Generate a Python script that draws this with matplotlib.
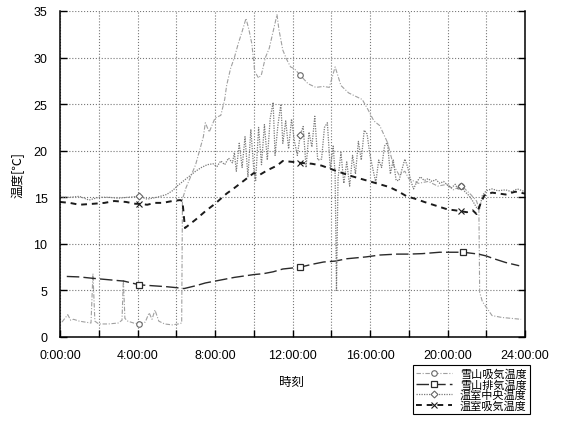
import matplotlib
matplotlib.use("Agg")
import matplotlib.pyplot as plt
import numpy as np
from matplotlib.ticker import FuncFormatter

# 雪山吸気温度
t_a = [0.1, 0.4, 0.55, 0.7, 1.0, 1.3, 1.6, 1.7, 1.8, 2.0, 2.5, 3.0, 3.2, 3.27, 3.35, 3.5, 3.8, 4.1,
       4.4, 4.6, 4.75, 4.9, 5.1, 5.4, 5.8, 6.1, 6.28, 6.32, 6.5, 6.8, 7.0, 7.2, 7.4, 7.5, 7.7, 8.0,
       8.3, 8.5, 8.6, 8.8, 9.0, 9.2, 9.4, 9.6, 9.75, 9.9, 10.05, 10.25, 10.4, 10.6, 10.8, 11.0,
       11.2, 11.3, 11.5, 11.7, 11.9, 12.1, 12.4, 12.8, 13.2, 13.6, 13.9, 14.2, 14.5, 14.9, 15.3,
       15.6, 15.9, 16.2, 16.5, 16.9, 17.2, 17.5, 17.8, 18.0, 18.5, 19.0, 19.5, 20.0, 20.3, 20.7,
       20.9, 21.2, 21.5, 21.62, 21.66, 21.8, 22.3, 22.8, 23.3, 23.8]
v_a = [1.6, 2.4, 1.8, 1.9, 1.7, 1.6, 1.5, 6.8, 1.7, 1.4, 1.4, 1.5, 1.8, 6.2, 2.0, 1.7, 1.5, 1.4,
       1.6, 2.6, 1.9, 2.9, 1.7, 1.4, 1.3, 1.4, 1.5, 14.8, 16.0, 17.5, 18.5, 20.0, 21.5, 23.0, 22.0,
       23.5, 23.8, 25.5, 27.0, 28.8, 30.0, 31.5, 32.8, 34.2, 33.0, 31.5, 28.5, 27.8, 28.2, 30.0,
       31.0, 32.8, 34.6, 33.0, 30.8, 29.8, 29.0, 28.8, 28.1, 27.2, 26.8, 26.9, 26.8, 29.0, 27.0,
       26.2, 25.8, 25.5, 24.4, 23.2, 22.7, 20.9, 18.5, 17.4, 17.8, 17.0, 16.5, 16.7, 16.2, 16.4,
       15.8, 16.2, 15.9, 15.3, 14.6, 13.8, 4.8, 3.8, 2.3, 2.1, 2.0, 1.9]

# 雪山排気温度
t_b = [0.35, 1.0, 1.7, 2.5, 3.3, 4.1, 4.8, 5.5, 6.0, 6.4, 7.0, 7.5, 8.0, 8.5, 9.0, 9.5, 10.0,
       10.5, 11.0, 11.5, 12.4, 13.0, 13.6, 14.2, 14.8, 15.8, 16.5, 17.4, 18.0, 18.7, 19.6, 20.3,
       20.8, 21.6, 22.0, 22.4, 23.0, 23.7]
v_b = [6.5, 6.45, 6.3, 6.15, 6.0, 5.6, 5.5, 5.4, 5.3, 5.2, 5.5, 5.8, 6.0, 6.2, 6.4, 6.55, 6.7,
       6.8, 7.0, 7.3, 7.5, 7.8, 8.05, 8.15, 8.4, 8.6, 8.8, 8.9, 8.9, 8.95, 9.1, 9.1, 9.1, 8.9,
       8.7, 8.4, 8.0, 7.65]

# 温室中央温度
t_c = [0.0, 0.5, 1.0, 1.5, 2.0, 2.5, 3.0, 3.5, 4.1, 4.5, 5.0, 5.5, 5.8, 6.1, 6.4, 6.7, 7.0, 7.3,
       7.6, 7.9, 8.1, 8.3, 8.5, 8.7, 8.9, 9.0, 9.1, 9.25, 9.4, 9.55, 9.7, 9.85, 10.0, 10.1, 10.25,
       10.4, 10.55, 10.7, 10.85, 11.0, 11.1, 11.25, 11.4, 11.5, 11.65, 11.8, 11.95, 12.1, 12.25,
       12.4, 12.55, 12.7, 12.85, 13.0, 13.15, 13.3, 13.5, 13.65, 13.8, 13.95, 14.1, 14.2, 14.27,
       14.35, 14.5, 14.65, 14.8, 14.95, 15.1, 15.25, 15.4, 15.55, 15.7, 15.85, 16.0, 16.15, 16.3,
       16.45, 16.6, 16.75, 16.9, 17.05, 17.2, 17.35, 17.5, 17.65, 17.8, 17.95, 18.1, 18.25, 18.4,
       18.6, 18.8, 19.0, 19.2, 19.4, 19.6, 19.8, 20.0, 20.2, 20.4, 20.55, 20.7, 20.9, 21.1, 21.3,
       21.5, 21.65, 21.8, 22.0, 22.3, 22.6, 23.0, 23.3, 23.6, 24.0]
v_c = [15.0, 15.0, 15.1, 14.7, 15.0, 15.0, 14.9, 15.0, 15.1, 14.8, 15.0, 15.3, 15.7, 16.3, 16.8,
       17.3, 17.8, 18.2, 18.5, 18.6, 18.3, 18.9, 18.5, 19.2, 18.7, 19.8, 17.8, 20.8, 18.2, 21.5,
       17.2, 22.3, 18.0, 16.8, 22.5, 18.5, 22.8, 19.0, 23.5, 25.2, 19.5, 22.8, 25.0, 20.8, 23.2,
       20.2, 23.4, 21.0, 19.5, 21.7, 22.6, 18.2, 22.0, 20.4, 23.7, 19.0, 19.1, 22.5, 23.0, 18.0,
       20.5, 17.5, 5.0, 17.0, 19.8, 16.5, 18.8, 16.2, 19.5, 17.5, 21.0, 19.0, 22.2, 21.8, 19.5,
       18.0, 16.6, 19.0, 18.2, 20.5, 20.9, 17.5, 19.0, 16.8, 16.8, 18.0, 19.1, 18.2, 16.8, 15.9,
       16.6, 17.2, 16.8, 17.0, 16.7, 16.9, 16.5, 16.7, 16.3, 16.0, 16.4, 15.8, 16.2, 15.6, 15.2,
       14.6, 13.9, 13.7, 15.2, 15.7, 15.9, 15.7, 15.8, 15.6, 15.9, 15.6]

# 温室吸気温度
t_d = [0.0, 0.5, 1.0, 1.7, 2.3, 2.8, 3.4, 3.9, 4.1, 4.5, 4.9, 5.3, 5.8, 6.2, 6.32, 6.45, 7.0,
       7.5, 8.0, 8.6, 9.0, 9.5, 10.0, 10.3, 10.7, 11.2, 11.5, 12.0, 12.4, 13.0, 13.5, 13.9, 14.3,
       15.0, 15.5, 16.0, 16.5, 17.0, 17.4, 17.9, 18.4, 18.8, 19.4, 20.0, 20.4, 20.7, 21.0, 21.3,
       21.5, 21.7, 21.9, 22.3, 23.0, 23.5, 24.0]
v_d = [14.5, 14.4, 14.2, 14.3, 14.4, 14.6, 14.5, 14.3, 14.3, 14.2, 14.4, 14.4, 14.6, 14.7, 14.6,
       11.7, 12.6, 13.5, 14.3, 15.4, 16.0, 16.8, 17.6, 17.4, 17.9, 18.4, 18.9, 18.8, 18.7, 18.6,
       18.4, 18.1, 17.8, 17.3, 17.0, 16.7, 16.4, 16.1, 15.7, 15.1, 14.8, 14.5, 14.1, 13.7, 13.6,
       13.5, 13.4, 13.6, 13.2, 14.3, 15.2, 15.5, 15.3, 15.6, 15.4]

labels = ['雪山吸気温度', '雪山排気温度', '温室中央温度', '温室吸気温度']
mark_a = [4.1, 12.4, 20.7]
mark_b = [4.1, 12.4, 20.8]

jp = ['Noto Sans CJK JP', 'DejaVu Sans']
plt.rcParams['font.family'] = ['Liberation Sans', 'DejaVu Sans']


def marks(t, at):
    return [i for i, x in enumerate(t) if x in at]


fig = plt.figure(figsize=(5.62, 4.27), dpi=100)
ax = fig.add_axes([60 / 562, 1 - 338 / 427, 465 / 562, 326 / 427])

l1, = ax.plot(t_a, v_a, color='#a0a0a0', lw=0.8, ls=(0, (4, 1.5, 1, 1.5)),
              marker='o', ms=4, mfc='white', mec='#666666', mew=0.8, markevery=marks(t_a, mark_a))
l2, = ax.plot(t_b, v_b, color='#2a2a2a', lw=1.0, ls=(0, (9, 3)),
              marker='s', ms=5, mfc='white', mec='#2a2a2a', mew=0.9, markevery=marks(t_b, mark_b))
l3, = ax.plot(t_c, v_c, color='#7a7a7a', lw=0.9, ls=(0, (1, 1)),
              marker='D', ms=3.5, mfc='white', mec='#666666', mew=0.8, markevery=marks(t_c, mark_a))
l4, = ax.plot(t_d, v_d, color='#1a1a1a', lw=1.4, ls=(0, (3, 2.5)),
              marker='x', ms=4, mec='#1a1a1a', mew=0.8, markevery=marks(t_d, mark_a))

ax.set_xlim(0, 24)
ax.set_ylim(0, 35)
ax.set_xticks(np.arange(0, 25, 2))
ax.xaxis.set_major_formatter(FuncFormatter(lambda h, p: f"{int(h)}:00:00" if int(h) % 4 == 0 else ""))
ax.set_yticks(np.arange(0, 36, 5))
ax.tick_params(direction='in', length=5, width=1, right=True, top=False, labelsize=9, pad=9)
ax.grid(True, color='#777777', ls=':', lw=0.8)
ax.set_axisbelow(True)
ax.spines['top'].set_visible(False)
for s in ['left', 'right', 'bottom']:
    ax.spines[s].set_linewidth(1.1)

fig.text(18 / 562, 1 - 175 / 427, '温度[℃]', rotation=90, ha='center', va='center',
         fontsize=9, family=jp)
fig.text(292 / 562, 1 - 382 / 427, '時刻', ha='center', va='center', fontsize=9, family=jp)

leg = fig.legend([l1, l2, l3, l4], labels, loc='upper left',
                 bbox_to_anchor=(413 / 562, 1 - 366 / 427), borderaxespad=0,
                 prop={'family': jp, 'size': 8}, fancybox=False, edgecolor='black',
                 framealpha=1, labelspacing=0.0, handlelength=3.2, handletextpad=0.7,
                 borderpad=0.3, numpoints=1)
leg.get_frame().set_linewidth(0.8)

fig.savefig('out.png', dpi=100)
